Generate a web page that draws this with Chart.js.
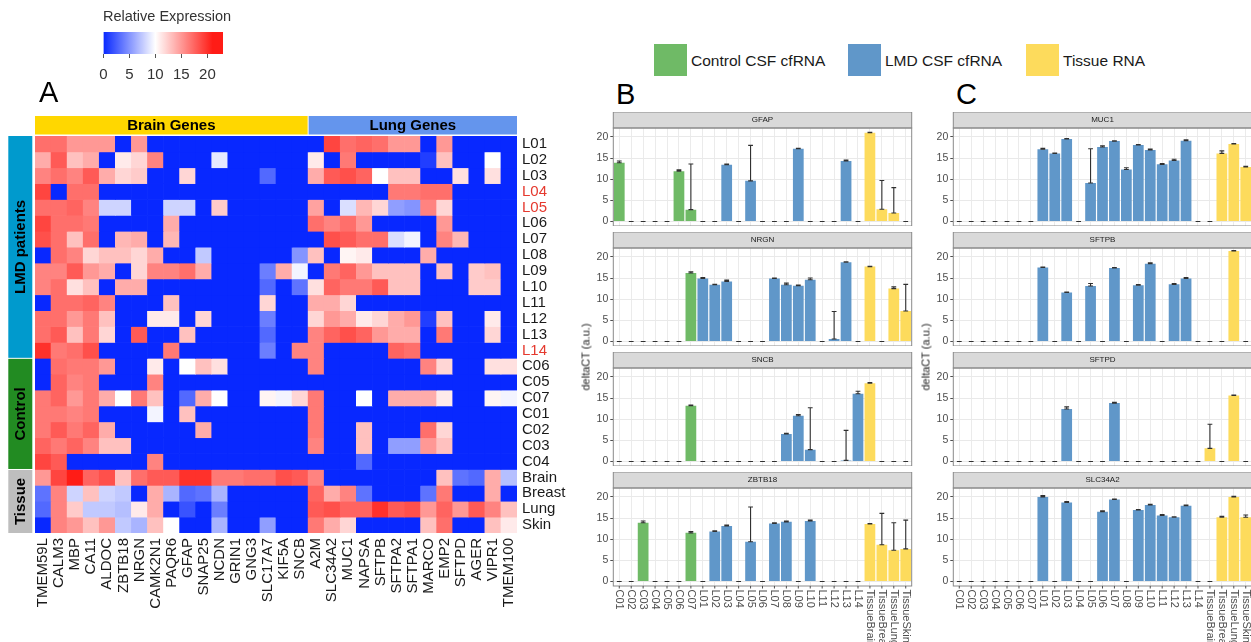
<!DOCTYPE html>
<html>
<head>
<meta charset="utf-8">
<title>Brain and lung gene expression</title>
<script src="https://cdn.jsdelivr.net/npm/chart.js@4.4.0/dist/chart.umd.min.js"></script>
<style>
  body { margin: 0; background: #fff; font-family: 'Liberation Sans', Arial, sans-serif; }
  #page { position: relative; width: 1251px; height: 642px; overflow: hidden; background: #fff; }
  #page canvas { position: absolute; }
  .txt { position: absolute; white-space: nowrap; line-height: 1; color: #1a1a1a; }
  .box { position: absolute; }
</style>
</head>
<body>
<div id="page">
  <canvas id="heat" width="570" height="642" style="left:0;top:0"></canvas>
  <canvas id="scale" width="150" height="70" style="left:90px;top:20px"></canvas>
</div>
<script>
// ---- panel A: heatmap ----
const GENES = ['TMEM59L','CALM3','MBP','CA11','ALDOC','ZBTB18','NRGN','CAMK2N1','PAQR6','GFAP','SNAP25','NCDN','GRIN1','GNG3','SLC17A7','KIF5A','SNCB',
  'A2M','SLC34A2','MUC1','NAPSA','SFTPB','SFTPA2','SFTPA1','MARCO','EMP2','SFTPD','AGER','VIPR1','TMEM100'];
const GENE_GROUPS = ['Brain Genes', 'Lung Genes'];
const GENE_GROUP_SIZES = [17, 13];
const ROWS = ['L01','L02','L03','L04','L05','L06','L07','L08','L09','L10','L11','L12','L13','L14',
  'C06','C05','C07','C01','C02','C03','C04','Brain','Breast','Lung','Skin'];
const ROW_GROUPS = ['LMD patients', 'Control', 'Tissue'];
const ROW_GROUP_SIZES = [14, 7, 4];
const RED_ROWS = ['L04', 'L05', 'L14'];

// relative expression, one array per row of ROWS, in GENES order
const EXPR = [
  [17,17,15,15,15,0,15,0,0,0,0,0,0,0,0,0,0, 0,19,17,17.5,17,15,15,0,15,0,0,0,0],
  [14,18,13,14,0,11,12,16,0,0,0,9,0,0,0,0,0, 11,0,16.5,0,0,0,0,1,13,0,0,10,0],
  [16,17,16,18,14,12,12.5,0,0,12,0,0,0,0,3,0,0, 14,18,18.5,17.5,10,13,13,0,0,11.5,0,11.5,0],
  [19,0,17,17,0,0,0,0,0,0,0,0,0,0,0,0,0, 0,0,0,0,0,16.5,16.5,17,17,0,0,0,0],
  [17,17,17.5,16,8,8,0,0,8,8,0,12.5,0,0,0,0,0, 14.5,0,8.5,13.5,12,5.5,5,16,12,0,0,0,0],
  [19,17,17,16.5,0,0,0,0,14,0,0,0,0,0,0,0,0, 17,16,17,15,0,0,0,0,15,0,0,0,0],
  [18.5,17,13,17,0,13.5,14,0,13.5,0,0,0,0,0,0,0,0, 0,18.5,18,17,17,8.5,9.5,0,16,13.5,0,0,0],
  [0,17,16,12,13,13,12,14,0,0,7.5,0,0,0,0,0,5, 13,0,10.5,11,0,0,0,14,0,0,0,0,0],
  [16,16,18,15,14,0,12,16,16,17,14,0,0,0,4,14,9.5, 0,16.5,17.5,15,13,13,13,0,13,0,12.5,13,0],
  [16,17,11.5,13,0,14,14,0,0,0,0,0,0,0,3,0,3.5, 11.5,17.5,16.5,16.5,18,13,13,0,0,0,12.5,12.5,0],
  [0,17,17,17.5,16,0,0,0,13,0,0,0,0,0,12,0,0, 14,14,12,0,0,0,0,0,0,0,0,0,0],
  [17,17,15,16.5,13,0,0,11,11,0,12,0,0,0,4,0,0, 12,15,14,11,12,14,15,1,13,0,0,11,0],
  [17,18,13,16.5,12,0,18,0,0,13,0,0,0,0,3,0,0, 16,17.5,18.5,17.5,15,14,14,0,16.5,0,0,12,0],
  [20,16.5,17,18.5,0,0,0,0,16.5,0,0,0,0,0,4,0,16, 16,0,0,0,0,17.5,17,0,0,0,0,0,0],
  [0,17,16.5,16.5,15,0,0,11,0,10,13,11.5,0,0,0,0,0, 16,0,0,0,0,0,0,16,12,0,0,11.5,11.5],
  [0,17.5,16,16.5,0,0,0,16,0,0,0,0,0,0,0,0,0, 0,0,0,0,0,0,0,0,0,0,0,0,0],
  [16.5,17.5,15,16.5,14,10,16.5,13,0,3,14,10,0,0,10.5,9.5,12, 16.5,0,0,10,0,14,14,14,11,0,0,10.5,9.5],
  [16.5,16.5,16,16.5,0,0,0,9.5,0,13,0,0,0,0,0,0,0, 16.5,0,0,0,0,0,0,0,0,0,0,0,0],
  [16.5,18,16.5,17.5,14,0,0,0,0,0,14,0,0,0,0,0,0, 16.5,0,0,13,0,0,0,17,12,0,0,0,0],
  [17.5,16.5,17.5,16,13,13,0,0,0,0,0,0,0,0,0,0,0, 16,0,0,13,0,5.5,5.5,15,13,0,0,0,0],
  [19,18,0,0,0,0,0,16,0,0,0,0,0,0,0,0,0, 0,0,0,3,0,0,0,0,0,0,0,0,0],
  [15,19,21,17.5,18.5,13,17,18,18,20,20,16.5,16.5,17,17,18.5,18, 16,0,0,0,0,0,0,0,13,3.5,3,14,7],
  [3.5,16,8,13,8,7.5,0,14,6.5,3,3.5,6.5,0,0,0,0,0, 17.5,14,16,3.5,0,0,0,3.5,16.5,0,0,14,0],
  [3,16,12.5,7.5,7.5,7,11,14,0,2,0,4,0,0,0,0,0, 18,18.5,17.5,17.5,20,18,18.5,15,17.5,15,18,16,13],
  [0,16,15,13,15,7.5,6.5,13,10,0,0,6.5,0,0,5.5,0,0, 16.5,14,12,0,0,0,0,13,17,0,0,13,11]
];
const SCALE_TICKS = [0, 5, 10, 15, 20];

// ---- panels B and C: deltaCT bars ----
const SAMPLES = ['C01','C02','C03','C04','C05','C06','C07',
  'L01','L02','L03','L04','L05','L06','L07','L08','L09','L10','L11','L12','L13','L14',
  'TissueBrain','TissueBreast','TissueLung','TissueSkin'];
const SAMPLE_GROUPS = ['Control CSF cfRNA', 'LMD CSF cfRNA', 'Tissue RNA'];
const SAMPLE_GROUP_SIZES = [7, 14, 4];

const GFAP_MEAN   = [13.9,0,0,0,0,11.9,2.8, 0,0,13.4,0,9.6,0,0,0,17.2,0,0,0,14.3,0, 21.0,2.9,2.0,0];
const GFAP_SD     = [0.4,0,0,0,0,0.3,10.8, 0,0,0.15,0,8.4,0,0,0,0.1,0,0,0,0.2,0, 0.1,6.8,6.0,0];
const NRGN_MEAN   = [0,0,0,0,0,0,16.2, 14.9,13.4,14.2,0,0,0,14.9,13.4,13.2,14.6,0,0.6,18.75,0, 17.7,0,12.5,7.2];
const NRGN_SD     = [0,0,0,0,0,0,0.3, 0.2,0.1,0.3,0,0,0,0.1,0.4,0.15,0.4,0,6.5,0.1,0, 0.05,0,0.4,6.3];
const SNCB_MEAN   = [0,0,0,0,0,0,13.2, 0,0,0,0,0,0,0,6.5,10.8,2.8,0,0,0.25,16.0, 18.5,0,0,0];
const SNCB_SD     = [0,0,0,0,0,0,0.15, 0,0,0,0,0,0,0,0.15,0.3,9.9,0,0,7.1,0.6, 0.15,0,0,0];
const ZBTB18_MEAN = [0,0,13.9,0,0,0,11.5, 0,11.8,13.1,0,9.4,0,13.7,14.1,0,14.3,0,0,0,0, 13.6,8.7,7.4,7.7];
const ZBTB18_SD   = [0,0,0.4,0,0,0,0.3, 0,0.2,0.25,0,8.2,0,0.2,0.2,0,0.2,0,0,0,0, 0.1,7.4,6.5,6.8];
const MUC1_MEAN   = [0,0,0,0,0,0,0, 17.1,16.1,19.5,0,9.1,17.6,19.0,12.3,18.1,16.9,13.5,14.4,19.1,0, 0,16.1,18.3,12.9];
const MUC1_SD     = [0,0,0,0,0,0,0, 0.2,0.1,0.1,0,8.1,0.3,0.1,0.4,0.1,0.2,0.2,0.3,0.2,0, 0,0.6,0.1,0.15];
const SFTPB_MEAN  = [0,0,0,0,0,0,0, 17.5,0,11.6,0,13.1,0,17.4,0,13.3,18.4,0,13.5,14.9,0, 0,0,21.4,0];
const SFTPB_SD    = [0,0,0,0,0,0,0, 0.1,0,0.1,0,0.6,0,0.1,0,0.15,0.2,0,0.2,0.2,0, 0,0,0.1,0];
const SFTPD_MEAN  = [0,0,0,0,0,0,0, 0,0,12.4,0,0,0,13.8,0,0,0,0,0,0,0, 3.1,0,15.6,0];
const SFTPD_SD    = [0,0,0,0,0,0,0, 0,0,0.5,0,0,0,0.2,0,0,0,0,0,0,0, 5.7,0,0.1,0];
const SLC34A2_MEAN = [0,0,0,0,0,0,0, 20.0,0,18.7,0,0,16.5,19.4,0,16.9,18.1,15.6,15.2,17.9,0, 0,15.2,20.0,15.2];
const SLC34A2_SD   = [0,0,0,0,0,0,0, 0.3,0,0.2,0,0,0.2,0.1,0,0.1,0.15,0.2,0.1,0.15,0, 0,0.2,0.15,0.5];

const Y_TICKS = [0, 2.5, 5, 7.5, 10, 12.5, 15, 17.5, 20];

// ---- look ----
const FONT = "'Liberation Sans', Arial, sans-serif";
Chart.defaults.font.family = FONT;
const GROUP_COLORS = ['#6fba66', '#6097c9', '#fddb5c'];
const ROW_GROUP_COLORS = ['#009acd', '#228b22', '#bebebe'];
const GENE_GROUP_COLORS = ['#ffd700', '#6495ed'];
const page = document.getElementById('page');

function heatColor(v) {
  const blue = [8, 40, 255], white = [255, 255, 255], red = [255, 28, 22];
  let a, b, t;
  if (v <= 10) { a = blue; b = white; t = v / 10; }
  else { a = white; b = red; t = Math.min(1, (v - 10) / 11); }
  const c = a.map((x, k) => Math.round(x + (b[k] - x) * t));
  return `rgb(${c[0]},${c[1]},${c[2]})`;
}

function groupOf(i, sizes) {
  let acc = 0;
  for (let g = 0; g < sizes.length; g++) { acc += sizes[g]; if (i < acc) return g; }
  return sizes.length - 1;
}

// annotation bars around the heatmap
const heatAnnot = {
  id: 'heatAnnot',
  afterDraw(chart) {
    const {ctx, scales: {x, y}, chartArea: a} = chart;
    const cw = x.getPixelForValue(1) - x.getPixelForValue(0);
    ctx.save();
    ctx.font = 'bold 15px ' + FONT;
    ctx.textAlign = 'center';
    ctx.textBaseline = 'middle';
    let start = 0;
    GENE_GROUPS.forEach((name, g) => {
      const end = start + GENE_GROUP_SIZES[g];
      const x0 = x.getPixelForValue(start) - cw / 2 + (g ? 0.5 : 0);
      const x1 = x.getPixelForValue(end - 1) + cw / 2 - (g ? 0 : 0.5);
      ctx.fillStyle = GENE_GROUP_COLORS[g];
      ctx.fillRect(x0, a.top - 20, x1 - x0, 18.5);
      ctx.fillStyle = '#000';
      ctx.fillText(name, (x0 + x1) / 2, a.top - 10.5);
      start = end;
    });
    start = 0;
    ROW_GROUPS.forEach((name, g) => {
      const end = start + ROW_GROUP_SIZES[g];
      const y0 = y.getPixelForValue(start) + (g ? 0.5 : 0);
      const y1 = y.getPixelForValue(end) - (g < ROW_GROUPS.length - 1 ? 0.5 : 0);
      ctx.fillStyle = ROW_GROUP_COLORS[g];
      ctx.fillRect(8.3, y0, 24, y1 - y0);
      ctx.fillStyle = '#000';
      ctx.save();
      ctx.translate(20.3, (y0 + y1) / 2);
      ctx.rotate(-Math.PI / 2);
      ctx.fillText(name, 0, 1);
      ctx.restore();
      start = end;
    });
    ctx.restore();
  }
};

new Chart(document.getElementById('heat'), {
  type: 'bar',
  data: {
    labels: GENES,
    datasets: ROWS.map((name, r) => ({
      label: name,
      data: GENES.map(() => [r, r + 1]),
      backgroundColor: EXPR[r].map(heatColor),
      borderWidth: 0,
      grouped: false,
      barPercentage: 1,
      categoryPercentage: 1
    }))
  },
  options: {
    responsive: false, animation: false, events: [],
    layout: { padding: { left: 35, top: 136, right: 0, bottom: 0 } },
    plugins: { legend: { display: false }, tooltip: { enabled: false } },
    scales: {
      x: {
        grid: { display: false, drawTicks: false }, border: { display: false },
        ticks: { autoSkip: false, minRotation: 90, maxRotation: 90, padding: 5, color: '#1a1a1a', font: { size: 15 } },
        afterFit: s => { s.height = 109; s.paddingLeft = 0; s.paddingRight = 0; }
      },
      y: {
        position: 'right', reverse: true, min: 0, max: ROWS.length,
        grid: { display: false, drawTicks: false }, border: { display: false },
        afterBuildTicks: s => { s.ticks = ROWS.map((_, i) => ({ value: i + 0.5 })); },
        ticks: {
          autoSkip: false, padding: 5, font: { size: 15 },
          callback: (v, i) => ROWS[i],
          color: c => RED_ROWS.includes(ROWS[c.index]) ? '#e5392e' : '#1a1a1a'
        },
        afterFit: s => { s.width = 53; s.paddingTop = 0; s.paddingBottom = 0; }
      }
    }
  },
  plugins: [heatAnnot]
});

// colour key
new Chart(document.getElementById('scale'), {
  type: 'bar',
  data: {
    labels: [''],
    datasets: [{
      data: [[0, 23]],
      borderWidth: 0, barPercentage: 1, categoryPercentage: 1,
      backgroundColor: c => {
        const a = c.chart.chartArea;
        if (!a) return 'transparent';
        const g = c.chart.ctx.createLinearGradient(a.left, 0, a.right, 0);
        for (let v = 0; v <= 23; v += 0.5) g.addColorStop(v / 23, heatColor(v));
        return g;
      }
    }]
  },
  options: {
    indexAxis: 'y', responsive: false, animation: false, events: [],
    layout: { padding: { left: 13.3, right: 17, top: 12, bottom: 0 } },
    plugins: { legend: { display: false }, tooltip: { enabled: false } },
    scales: {
      x: {
        type: 'linear', min: 0, max: 23,
        afterBuildTicks: s => { s.ticks = SCALE_TICKS.map(v => ({ value: v })); },
        ticks: { font: { size: 15 }, color: '#333', padding: 8 },
        grid: { drawOnChartArea: false, tickLength: 4, tickColor: '#555' },
        border: { display: false },
        afterFit: s => { s.height = 36; s.paddingLeft = 0; s.paddingRight = 0; }
      },
      y: { display: false }
    }
  }
});

// error bars drawn from the value scale
const errorBars = {
  id: 'errorBars',
  afterDatasetsDraw(chart, args, opts) {
    const {ctx, scales: {x, y}} = chart;
    const mean = chart.data.datasets[0].data;
    ctx.save();
    ctx.strokeStyle = '#303030';
    ctx.lineWidth = 1.1;
    mean.forEach((m, i) => {
      const px = x.getPixelForValue(i);
      const y0 = y.getPixelForValue(m);
      const y1 = y.getPixelForValue(m + opts.sd[i]);
      ctx.beginPath();
      ctx.moveTo(px, y0); ctx.lineTo(px, y1);
      ctx.moveTo(px - 2.4, y0); ctx.lineTo(px + 2.4, y0);
      ctx.moveTo(px - 2.4, y1); ctx.lineTo(px + 2.4, y1);
      ctx.stroke();
    });
    ctx.restore();
  }
};

// strip, panel border and (for the bottom row) sample labels
const facetFrame = {
  id: 'facetFrame',
  afterDraw(chart, args, opts) {
    const {ctx, chartArea: a, scales: {x}} = chart;
    const w = a.right - a.left;
    ctx.save();
    ctx.fillStyle = '#d9d9d9';
    ctx.fillRect(a.left, a.top - 16, w, 16);
    ctx.strokeStyle = '#8a8a8a';
    ctx.lineWidth = 1;
    ctx.strokeRect(a.left, a.top - 16, w, 16);
    ctx.strokeRect(a.left, a.top, w, a.bottom - a.top);
    ctx.fillStyle = '#1a1a1a';
    ctx.font = '8px ' + FONT;
    ctx.textAlign = 'center';
    ctx.textBaseline = 'middle';
    ctx.fillText(opts.title, (a.left + a.right) / 2, a.top - 8);
    if (opts.labels) {
      ctx.font = '11px ' + FONT;
      ctx.fillStyle = '#4d4d4d';
      ctx.strokeStyle = '#4d4d4d';
      ctx.textAlign = 'left';
      chart.data.labels.forEach((lab, i) => {
        const px = x.getPixelForValue(i);
        ctx.beginPath(); ctx.moveTo(px, a.bottom); ctx.lineTo(px, a.bottom + 2.5); ctx.stroke();
        ctx.save();
        ctx.translate(px, a.bottom + 3.5);
        ctx.rotate(Math.PI / 2);
        ctx.fillText(lab, 0, 0);
        ctx.restore();
      });
    }
    ctx.restore();
  }
};

function facet(left, top, gene, mean, sd, labels) {
  const cv = document.createElement('canvas');
  cv.width = 345;
  cv.height = 114 + (labels ? 56 : 0);
  cv.style.left = left + 'px';
  cv.style.top = top + 'px';
  page.appendChild(cv);
  new Chart(cv, {
    type: 'bar',
    data: {
      labels: SAMPLES,
      datasets: [{
        data: mean,
        backgroundColor: SAMPLES.map((_, i) => GROUP_COLORS[groupOf(i, SAMPLE_GROUP_SIZES)]),
        borderWidth: 0, inflateAmount: 0,
        barPercentage: 0.9, categoryPercentage: 1
      }]
    },
    options: {
      responsive: false, animation: false, events: [],
      layout: { padding: { top: 16, right: 3.3, left: 0, bottom: labels ? 56 : 0 } },
      plugins: {
        legend: { display: false }, tooltip: { enabled: false },
        errorBars: { sd }, facetFrame: { title: gene, labels }
      },
      scales: {
        x: {
          offset: true,
          grid: { offset: false, color: '#ebebeb', drawTicks: false },
          border: { display: false },
          ticks: { display: false },
          afterFit: s => { s.height = 0; s.paddingLeft = 0; s.paddingRight = 0; }
        },
        y: {
          min: -1.07, max: 22.1,
          afterBuildTicks: s => { s.ticks = Y_TICKS.map(v => ({ value: v })); },
          ticks: {
            callback: v => (v % 5 === 0 ? v : ''),
            font: { size: 10.5 }, color: '#4d4d4d', padding: 2
          },
          grid: {
            color: c => (c.tick && c.tick.value % 5 === 0 ? '#e9e9e9' : '#f4f4f4'),
            lineWidth: c => (c.tick && c.tick.value % 5 === 0 ? 1 : 0.6),
            tickLength: 3,
            tickColor: c => (c.tick && c.tick.value % 5 === 0 ? '#4d4d4d' : 'rgba(0,0,0,0)')
          },
          border: { display: false },
          afterFit: s => { s.width = 43.3; s.paddingTop = 0; s.paddingBottom = 0; }
        }
      }
    },
    plugins: [errorBars, facetFrame]
  });
}

const STRIP_TOPS = [112, 232, 352, 472];
facet(570, STRIP_TOPS[0], 'GFAP', GFAP_MEAN, GFAP_SD, false);
facet(570, STRIP_TOPS[1], 'NRGN', NRGN_MEAN, NRGN_SD, false);
facet(570, STRIP_TOPS[2], 'SNCB', SNCB_MEAN, SNCB_SD, false);
facet(570, STRIP_TOPS[3], 'ZBTB18', ZBTB18_MEAN, ZBTB18_SD, true);
facet(910, STRIP_TOPS[0], 'MUC1', MUC1_MEAN, MUC1_SD, false);
facet(910, STRIP_TOPS[1], 'SFTPB', SFTPB_MEAN, SFTPB_SD, false);
facet(910, STRIP_TOPS[2], 'SFTPD', SFTPD_MEAN, SFTPD_SD, false);
facet(910, STRIP_TOPS[3], 'SLC34A2', SLC34A2_MEAN, SLC34A2_SD, true);

// text labels
function addText(text, left, top, size, extra) {
  const d = document.createElement('div');
  d.className = 'txt';
  d.textContent = text;
  d.style.left = left + 'px';
  d.style.top = top + 'px';
  d.style.fontSize = size + 'px';
  if (extra) Object.assign(d.style, extra);
  page.appendChild(d);
  return d;
}
addText('Relative Expression', 103, 8.8, 14.5, { color: '#333' });
addText('A', 39, 78, 29, { color: '#000' });
addText('B', 616, 80, 29, { color: '#000' });
addText('C', 956, 80, 29, { color: '#000' });
[586, 926].forEach(cx => addText('deltaCT (a.u.)', cx, 357, 11,
  { transform: 'translate(-50%,-50%) rotate(-90deg)' }));

const LEGEND_X = [654, 848, 1026];
SAMPLE_GROUPS.forEach((name, g) => {
  const b = document.createElement('div');
  b.className = 'box';
  Object.assign(b.style, { left: LEGEND_X[g] + 'px', top: '44px', width: '33px', height: '32px', background: GROUP_COLORS[g] });
  page.appendChild(b);
  addText(name, LEGEND_X[g] + 37, 53, 15.5);
});
</script>
</body>
</html>
